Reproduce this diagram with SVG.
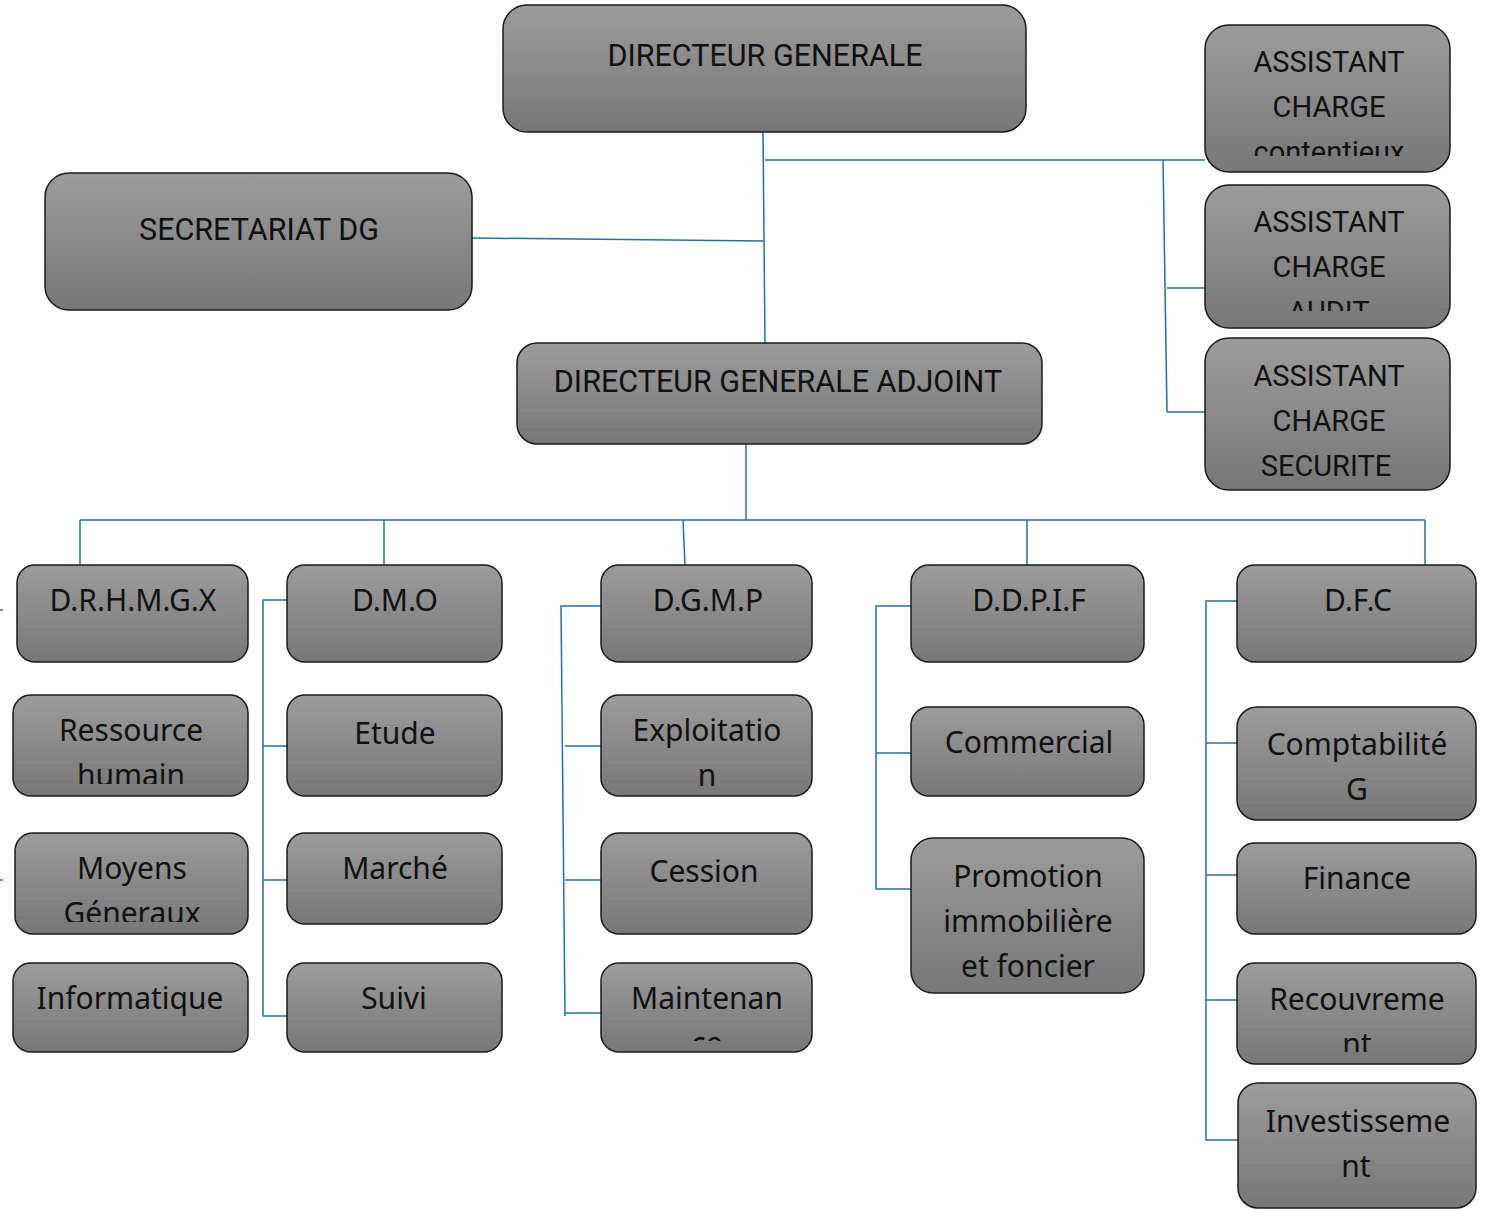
<svg xmlns="http://www.w3.org/2000/svg" width="1488" height="1209" viewBox="0 0 1488 1209">
<defs>
<linearGradient id="g" x1="0" y1="0" x2="0" y2="1">
<stop offset="0" stop-color="#9c9c9c"/>
<stop offset="1" stop-color="#777777"/>
</linearGradient>
<clipPath id="c1"><rect x="1205" y="25" width="245" height="131"/></clipPath>
<clipPath id="c2"><rect x="1205" y="185" width="245" height="126"/></clipPath>
<clipPath id="c3"><rect x="1205" y="338" width="245" height="138"/></clipPath>
<clipPath id="c4"><rect x="13" y="695" width="235" height="89"/></clipPath>
<clipPath id="c5"><rect x="15" y="833" width="233" height="89"/></clipPath>
<clipPath id="c6"><rect x="601" y="963" width="211" height="78"/></clipPath>
<clipPath id="c7"><rect x="1237" y="963" width="239" height="89"/></clipPath>
</defs>
<style>
.b{fill:url(#g);stroke:#1a1a1a;stroke-width:1.5}
.t{font-family:Roboto,"Liberation Sans",sans-serif;font-size:30.5px;fill:#111;text-anchor:middle}
.a{font-family:Roboto,"Liberation Sans",sans-serif;font-size:29px;fill:#111;text-anchor:middle}
.u{font-family:"Noto Sans","Liberation Sans",sans-serif;font-size:30px;fill:#111;text-anchor:middle}
.l{stroke:#2a6f97;stroke-width:1.5;fill:none}
</style>
<g id="connectors">
<path class="l" d="M763 132 L765 343"/>
<path class="l" d="M472 238 L763 241"/>
<path class="l" d="M765 160 L1205 160"/>
<path class="l" d="M1163 160 L1167 412"/>
<path class="l" d="M1167 288 L1205 288"/>
<path class="l" d="M1167 412 L1205 412"/>
<path class="l" d="M746 444 L746 520"/>
<path class="l" d="M80 520 L1425 520"/>
<path class="l" d="M80 520 L80 565"/>
<path class="l" d="M384 520 L384 565"/>
<path class="l" d="M683 520 L685 565"/>
<path class="l" d="M1027 520 L1027 565"/>
<path class="l" d="M1425 520 L1425 565"/>
<path class="l" d="M0 610 L3 610"/>
<path class="l" d="M0 880 L3 880"/>
<path class="l" d="M287 600 L263 600 L263 1016 L287 1016"/>
<path class="l" d="M263 746 L287 746"/>
<path class="l" d="M263 880 L287 880"/>
<path class="l" d="M601 606 L561 606 L565 1016"/>
<path class="l" d="M565 746 L601 746"/>
<path class="l" d="M565 880 L601 880"/>
<path class="l" d="M565 1013 L601 1013"/>
<path class="l" d="M911 606 L876 606 L876 889 L911 889"/>
<path class="l" d="M876 753 L911 753"/>
<path class="l" d="M1237 601 L1206 601 L1206 1140 L1238 1140"/>
<path class="l" d="M1206 743 L1237 743"/>
<path class="l" d="M1206 875 L1237 875"/>
<path class="l" d="M1206 1000 L1237 1000"/>
</g>
<g id="dg"><rect class="b" x="503" y="5" width="523" height="127" rx="24"/><text class="t" x="765" y="66">DIRECTEUR GENERALE</text></g>
<g id="secretariat"><rect class="b" x="45" y="173" width="427" height="137" rx="24"/><text class="t" x="259" y="240">SECRETARIAT DG</text></g>
<g id="dga"><rect class="b" x="517" y="343" width="525" height="101" rx="20"/><text class="t" x="778" y="392">DIRECTEUR GENERALE ADJOINT</text></g>
<g id="ass1"><rect class="b" x="1205" y="25" width="245" height="147" rx="24"/><g clip-path="url(#c1)"><text class="a" x="1329" y="72">ASSISTANT</text><text class="a" x="1329" y="117">CHARGE</text><text class="a" x="1329" y="162">contentieux</text></g></g>
<g id="ass2"><rect class="b" x="1205" y="185" width="245" height="143" rx="24"/><g clip-path="url(#c2)"><text class="a" x="1329" y="232">ASSISTANT</text><text class="a" x="1329" y="277">CHARGE</text><text class="a" x="1329" y="322">AUDIT</text></g></g>
<g id="ass3"><rect class="b" x="1205" y="338" width="245" height="152" rx="24"/><g clip-path="url(#c3)"><text class="a" x="1329" y="386">ASSISTANT</text><text class="a" x="1329" y="431">CHARGE</text><text class="a" x="1326" y="476">SECURITE</text></g></g>
<g id="drhmgx"><rect class="b" x="17" y="565" width="231" height="97" rx="18"/><text class="u" x="133" y="611">D.R.H.M.G.X</text></g>
<g id="ressource"><rect class="b" x="13" y="695" width="235" height="101" rx="18"/><g clip-path="url(#c4)"><text class="u" x="131" y="741">Ressource</text><text class="u" x="131" y="786">humain</text></g></g>
<g id="moyens"><rect class="b" x="15" y="833" width="233" height="101" rx="18"/><g clip-path="url(#c5)"><text class="u" x="132" y="879">Moyens</text><text class="u" x="132" y="924">Géneraux</text></g></g>
<g id="informatique"><rect class="b" x="13" y="963" width="235" height="89" rx="18"/><text class="u" x="130" y="1009">Informatique</text></g>
<g id="dmo"><rect class="b" x="287" y="565" width="215" height="97" rx="18"/><text class="u" x="395" y="611">D.M.O</text></g>
<g id="etude"><rect class="b" x="287" y="695" width="215" height="101" rx="18"/><text class="u" x="395" y="744">Etude</text></g>
<g id="marche"><rect class="b" x="287" y="833" width="215" height="91" rx="18"/><text class="u" x="395" y="879">Marché</text></g>
<g id="suivi"><rect class="b" x="287" y="963" width="215" height="89" rx="18"/><text class="u" x="394" y="1009">Suivi</text></g>
<g id="dgmp"><rect class="b" x="601" y="565" width="211" height="97" rx="18"/><text class="u" x="708" y="611">D.G.M.P</text></g>
<g id="exploitation"><rect class="b" x="601" y="695" width="211" height="101" rx="18"/><text class="u" x="707" y="741">Exploitatio</text><text class="u" x="707" y="786">n</text></g>
<g id="cession"><rect class="b" x="601" y="833" width="211" height="101" rx="18"/><text class="u" x="704" y="882">Cession</text></g>
<g id="maintenance"><rect class="b" x="601" y="963" width="211" height="89" rx="18"/><g clip-path="url(#c6)"><text class="u" x="707" y="1009">Maintenan</text><text class="u" x="707" y="1054">ce</text></g></g>
<g id="ddpif"><rect class="b" x="911" y="565" width="233" height="97" rx="18"/><text class="u" x="1029" y="611">D.D.P.I.F</text></g>
<g id="commercial"><rect class="b" x="911" y="707" width="233" height="89" rx="18"/><text class="u" x="1029" y="753">Commercial</text></g>
<g id="promotion"><rect class="b" x="911" y="838" width="233" height="155" rx="22"/><text class="u" x="1028" y="887">Promotion</text><text class="u" x="1028" y="932">immobilière</text><text class="u" x="1028" y="977">et foncier</text></g>
<g id="dfc"><rect class="b" x="1237" y="565" width="239" height="97" rx="18"/><text class="u" x="1358" y="611">D.F.C</text></g>
<g id="comptabilite"><rect class="b" x="1237" y="707" width="239" height="113" rx="20"/><text class="u" x="1357" y="755">Comptabilité</text><text class="u" x="1357" y="800">G</text></g>
<g id="finance"><rect class="b" x="1237" y="843" width="239" height="91" rx="18"/><text class="u" x="1357" y="889">Finance</text></g>
<g id="recouvrement"><rect class="b" x="1237" y="963" width="239" height="101" rx="18"/><g clip-path="url(#c7)"><text class="u" x="1357" y="1010">Recouvreme</text><text class="u" x="1357" y="1055">nt</text></g></g>
<g id="investissement"><rect class="b" x="1238" y="1083" width="238" height="125" rx="20"/><text class="u" x="1358" y="1132">Investisseme</text><text class="u" x="1356" y="1177">nt</text></g>
</svg>
